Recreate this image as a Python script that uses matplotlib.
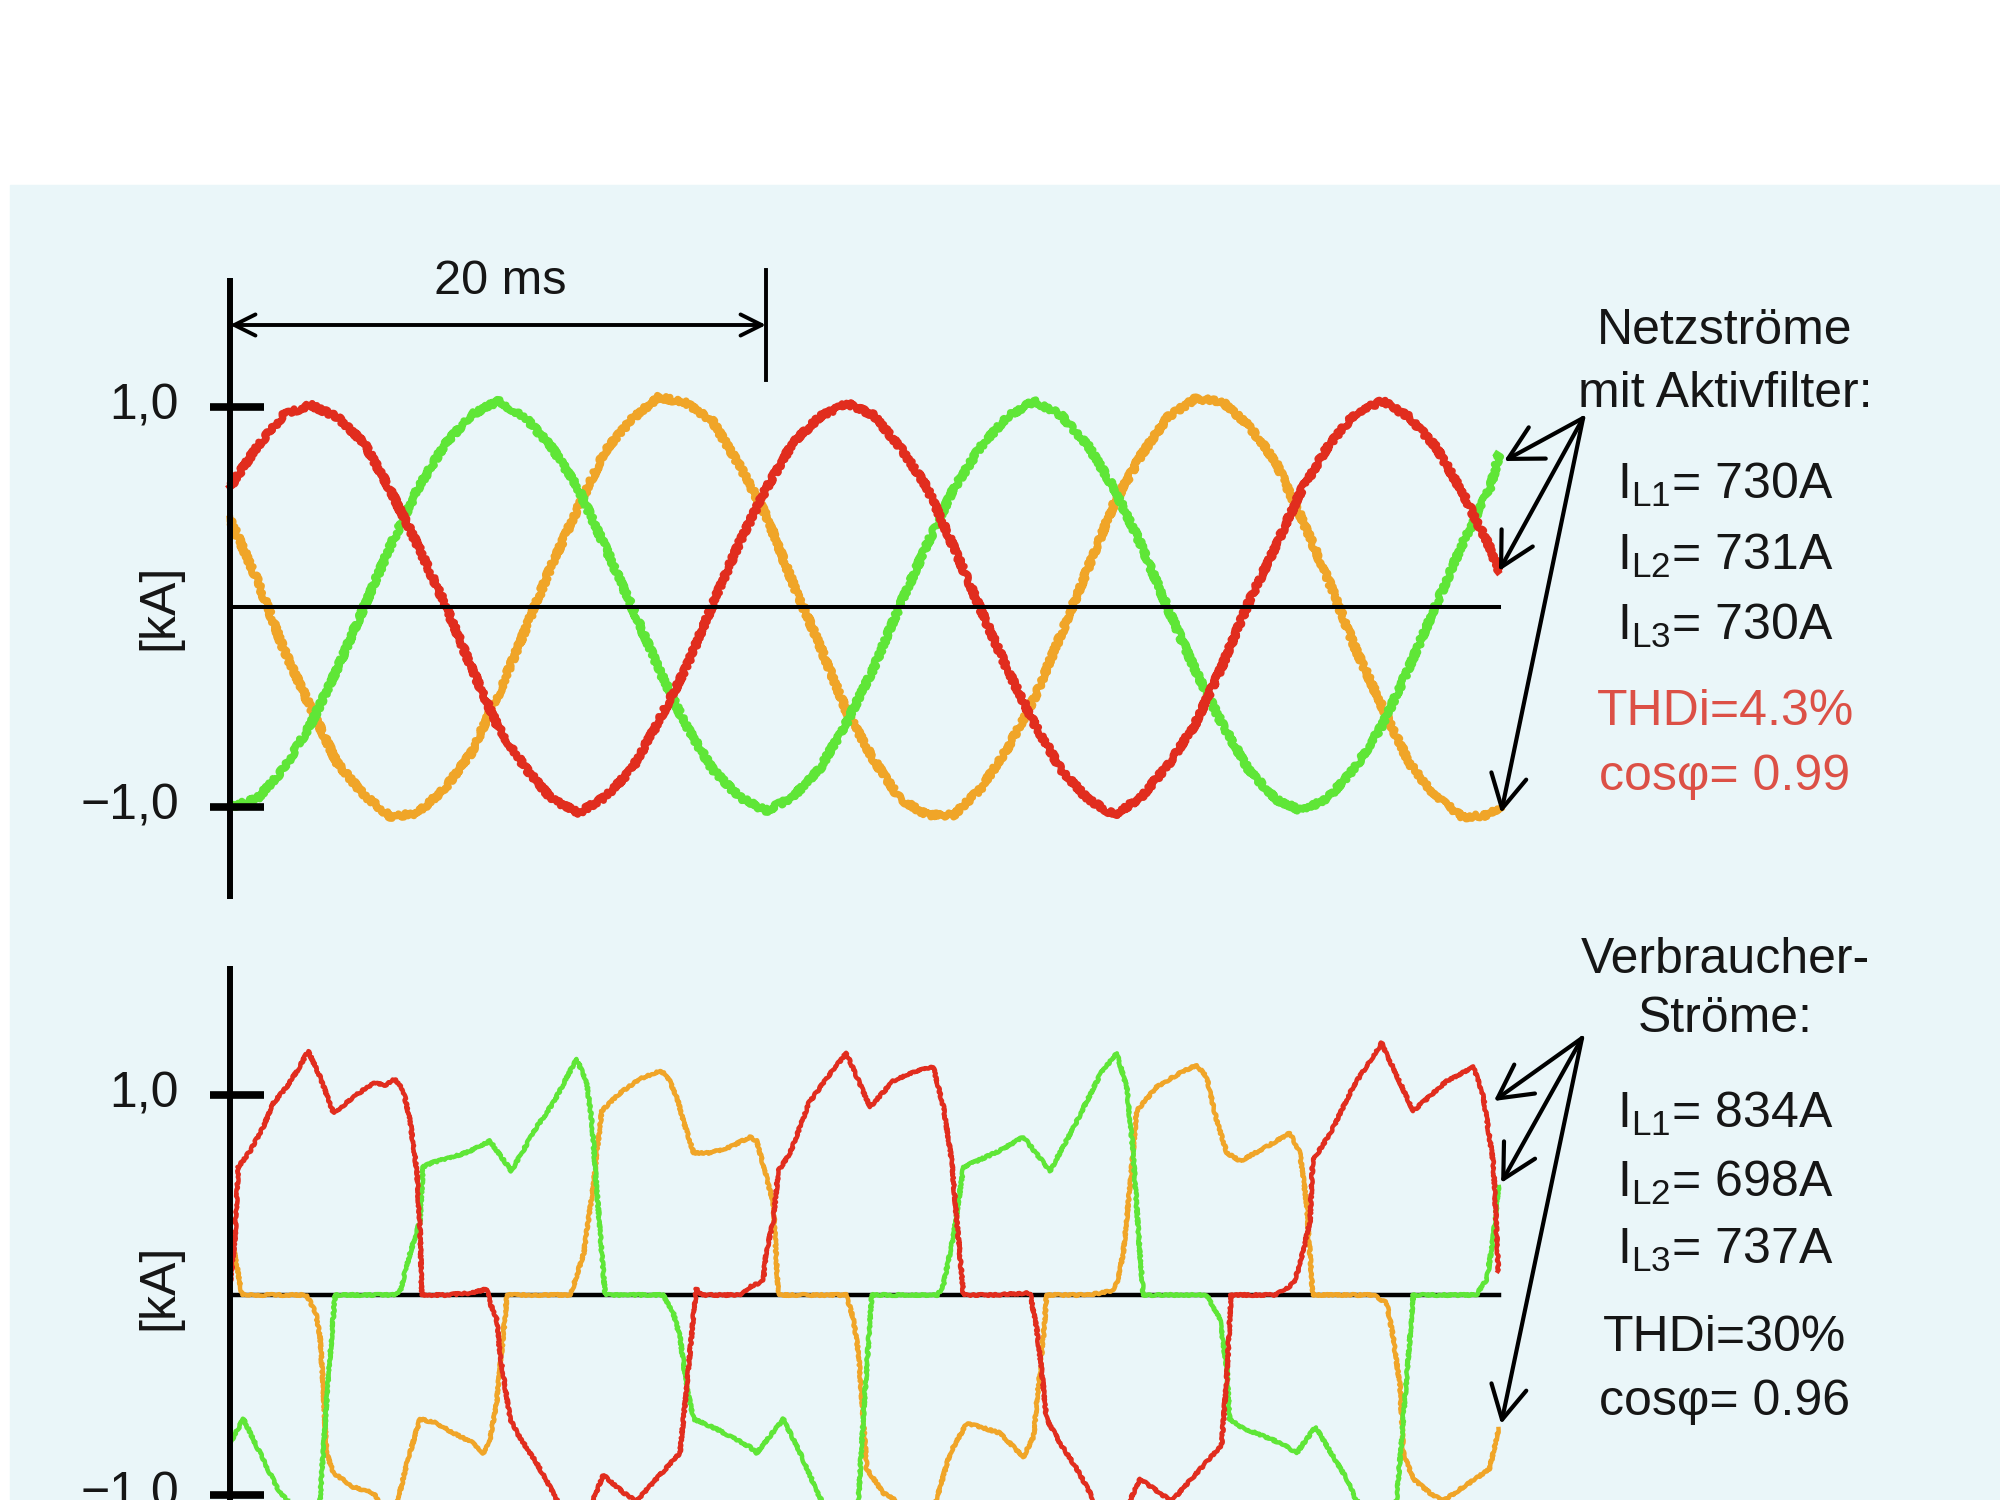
import numpy as np
import matplotlib.pyplot as plt
from matplotlib.patches import Rectangle

plt.rcParams['font.family'] = ['Liberation Sans', 'DejaVu Sans']
plt.rcParams['mathtext.fontset'] = 'custom'
plt.rcParams['mathtext.rm'] = 'Liberation Sans'
plt.rcParams['mathtext.it'] = 'Liberation Sans:italic'
plt.rcParams['mathtext.default'] = 'regular'

RED = '#e12d1e'
GREEN = '#5fe637'
ORANGE = '#f0a528'
TXT = '#161616'
TXT_RED = '#dc5046'
BG = '#eaf6f9'

# --- top panel: mains currents with active filter, sampled every 1 ms [kA]
t_top = list(range(48)) + [47.35]
top_l1 = [0.60, 0.80, 0.96, 1.01, 0.95, 0.82, 0.58, 0.31, 0.02, -0.30,
          -0.60, -0.80, -0.96, -1.03, -0.95, -0.81, -0.57, -0.31, 0.01, 0.32,
          0.59, 0.82, 0.95, 1.02, 0.96, 0.80, 0.60, 0.30, -0.01, -0.31,
          -0.58, -0.81, -0.96, -1.04, -0.95, -0.79, -0.59, -0.30, 0.02, 0.30,
          0.59, 0.81, 0.97, 1.03, 0.95, 0.80, 0.57, 0.30, 0.18]
top_l2 = [-1.00, -0.96, -0.81, -0.59, -0.31, 0.00, 0.31, 0.59, 0.81, 0.96,
          1.03, 0.95, 0.80, 0.59, 0.30, 0.00, -0.31, -0.59, -0.81, -0.95,
          -1.02, -0.95, -0.81, -0.58, -0.31, 0.01, 0.31, 0.59, 0.80, 0.95,
          1.03, 0.96, 0.81, 0.59, 0.31, -0.01, -0.31, -0.58, -0.81, -0.96,
          -1.02, -0.95, -0.80, -0.59, -0.30, 0.01, 0.32, 0.59, 0.76]
top_l3 = [0.44, 0.14, -0.21, -0.50, -0.78, -0.94, -1.05, -1.03, -0.91, -0.73,
          -0.44, -0.12, 0.21, 0.50, 0.78, 0.94, 1.05, 1.02, 0.93, 0.71,
          0.46, 0.12, -0.19, -0.52, -0.76, -0.96, -1.04, -1.04, -0.91, -0.71,
          -0.46, -0.14, 0.19, 0.52, 0.76, 0.95, 1.04, 1.03, 0.91, 0.73,
          0.44, 0.13, -0.21, -0.50, -0.78, -0.95, -1.05, -1.04, -1.00]

# --- bottom panel: load currents [ms], [kA]
bot_l1_t = [0.0, 0.12, 0.19, 0.31, 0.75, 1.24, 1.62, 2.11, 2.5, 2.92, 3.36, 3.86, 4.25, 4.6,
            5.35, 5.8, 6.16, 6.47, 6.72, 6.97, 7.1, 7.15, 8.0, 9.0, 9.58, 9.7, 9.95, 10.07,
            10.3, 10.45, 10.8, 11.44, 12.06, 12.95, 13.93, 14.7, 15.5, 16.2, 16.45, 16.79,
            17.04, 17.28, 17.4, 17.6, 19.0, 19.4, 19.9, 20.0, 20.27, 20.46, 20.9, 21.6, 22.3,
            23.0, 23.88, 24.75, 25.62, 26.24, 26.62, 26.93, 27.12, 27.37, 28.5, 29.85, 30.1,
            30.28, 30.47, 30.97, 31.6, 32.09, 32.9, 33.96, 34.8, 35.6, 36.3, 36.7, 37.0, 37.2,
            37.35, 39.0, 39.4, 39.68, 39.9, 40.3, 40.4, 41.1, 41.9, 42.97, 44.15, 45.4, 46.4,
            46.77, 47.14, 47.33]
bot_l1_v = [0.05, 0.2, 0.29, 0.64, 0.72, 0.84, 0.96, 1.04, 1.12, 1.22, 1.09, 0.91, 0.95, 0.99,
            1.06, 1.05, 1.08, 1.02, 0.87, 0.62, 0.3, 0.0, 0.0, 0.01, 0.03, -0.04, -0.12, -0.29,
            -0.49, -0.62, -0.71, -0.84, -0.99, -1.22, -0.9, -0.99, -1.06, -1.09, -1.03, -0.79,
            -0.46, -0.12, 0.03, 0.0, 0.0, 0.04, 0.07, 0.21, 0.37, 0.62, 0.71, 0.96, 1.09,
            1.21, 0.94, 1.07, 1.12, 1.14, 0.94, 0.67, 0.37, 0.0, 0.0, 0.01, -0.17,
            -0.37, -0.62, -0.74, -0.87, -0.99, -1.22, -0.92, -1.0, -1.07, -1.1, -1.03, -0.75, -0.4,
            0.0, 0.0, 0.03, 0.06, 0.14, 0.37, 0.67, 0.82, 1.04, 1.26, 0.92, 1.07, 1.14,
            0.99, 0.66, 0.12]

bot_l2_t = [0.0, 0.5, 1.12, 1.74, 2.3, 2.83, 3.2, 3.36, 3.6, 3.79, 3.92, 5.0, 6.2, 6.35, 6.7,
            7.09, 7.2, 7.5, 8.33, 8.96, 9.7, 10.5, 11.44, 12.06, 12.93, 13.3, 13.5, 13.68,
            13.87, 14.0, 15.0, 16.17, 16.54, 16.79, 17.04, 17.3, 18.16, 19.4, 19.65, 20.65,
            21.27, 22.0, 22.9, 23.25, 23.45, 23.63, 23.88, 23.95, 25.0, 26.4, 26.62, 27.0,
            27.37, 28.7, 29.6, 30.6, 31.6, 32.5, 33.08, 33.46, 33.7, 33.95, 34.08, 35.0, 36.45,
            36.93, 37.2, 37.3, 37.7, 39.2, 39.8, 40.5, 41.67, 42.0, 43.0, 43.3, 43.53, 43.78,
            44.03, 44.15, 45.5, 46.5, 46.9, 47.14, 47.33]
bot_l2_v = [-0.74, -0.62, -0.79, -0.96, -1.06, -1.18, -1.07, -1.02, -0.54, -0.21, 0.0, 0.0, 0.0,
            0.02, 0.2, 0.37, 0.64, 0.66, 0.69, 0.72, 0.77, 0.62, 0.84, 0.96, 1.18, 1.07, 0.87,
            0.54, 0.21, 0.0, 0.0, 0.0, -0.09, -0.21, -0.46, -0.62, -0.67, -0.76, -0.79, -0.62,
            -0.79, -1.01, -1.2, -1.08, -1.02, -0.62, -0.12, 0.0, 0.0, 0.0, 0.05, 0.3,
            0.64, 0.72, 0.79, 0.62, 0.87, 1.11, 1.21, 1.04, 0.71, 0.21, 0.0, 0.0, 0.0,
            -0.12, -0.37, -0.62, -0.66, -0.74, -0.79, -0.66, -0.92, -1.02, -1.2, -1.08, -1.02,
            -0.62, -0.21, 0.0, 0.0, 0.0, 0.08, 0.29, 0.54]

bot_l3_t = [0.0, 0.25, 0.45, 1.5, 2.8, 2.9, 3.2, 3.36, 3.48, 3.6, 3.86, 4.6, 5.35, 6.0, 6.35,
            6.6, 7.09, 7.7, 8.33, 9.08, 9.45, 9.7, 9.95, 10.07, 10.26, 10.33, 11.5, 12.7, 12.8,
            13.2, 13.55, 13.87, 14.55, 15.3, 16.05, 16.3, 16.67, 16.92, 17.3, 17.9, 18.66,
            19.4, 19.65, 19.96, 20.27, 20.46, 22.0, 23.0, 23.26, 23.45, 23.63, 23.76, 24.38,
            25.0, 26.0, 26.37, 26.87, 27.5, 28.73, 29.6, 29.98, 30.16, 30.35, 30.47, 32.0,
            32.9, 33.1, 33.33, 33.58, 33.83, 34.57, 35.45, 36.07, 36.44, 36.82, 37.2, 37.7,
            38.66, 39.55, 39.92, 40.17, 40.4, 41.5, 42.66, 43.16, 43.4, 43.66, 43.78, 44.15,
            44.77, 45.5, 46.2, 46.64, 47.0, 47.33]
bot_l3_v = [0.32, 0.15, 0.0, 0.0, 0.0, -0.01, -0.09, -0.21, -0.46, -0.79, -0.89, -0.96, -0.99,
            -1.12, -0.98, -0.84, -0.62, -0.64, -0.69, -0.74, -0.79, -0.72, -0.54, -0.37, -0.12,
            0.0, 0.0, 0.0, 0.04, 0.21, 0.54, 0.92, 1.01, 1.08, 1.12, 1.1, 0.99, 0.87, 0.71,
            0.71, 0.74, 0.79, 0.77, 0.62, 0.46, 0.0, 0.0, 0.0, -0.12, -0.29, -0.62, -0.87,
            -0.99, -1.04, -1.1, -1.02, -0.79, -0.64, -0.69, -0.81, -0.71, -0.46, -0.21, 0.0,
            0.0, 0.02, 0.06, 0.21, 0.54, 0.92, 1.04, 1.11, 1.15, 1.09, 0.87, 0.71, 0.67,
            0.74, 0.81, 0.71, 0.46, 0.0, 0.0, 0.0, -0.04, -0.21, -0.46, -0.79, -0.92,
            -0.99, -1.05, -1.12, -1.03, -0.87, -0.67]

top_text = ['Netzströme', 'mit Aktivfilter:', r'I$_{L1}$= 730A', r'I$_{L2}$= 731A',
            r'I$_{L3}$= 730A', 'THDi=4.3%', 'cosφ= 0.99']
top_text_y = [331, 394, 485, 556, 626, 712, 777]
bot_text = ['Verbraucher-', 'Ströme:', r'I$_{L1}$= 834A', r'I$_{L2}$= 698A',
            r'I$_{L3}$= 737A', 'THDi=30%', 'cosφ= 0.96']
bot_text_y = [960, 1019, 1114, 1183, 1250, 1338, 1402]

T_END = 47.35
XLIM = (-230 / 26.8, 1770 / 26.8)

fig = plt.figure(figsize=(20, 15), dpi=100)
fig.patches.append(Rectangle((10 / 2000, 0), 1, 1 - 185 / 1500, transform=fig.transFigure,
                             color=BG, zorder=-10))

ax1 = fig.add_axes([0, 0.38, 1, 745 / 1500])
ax2 = fig.add_axes([0, 0, 1, 0.38])
ax1.set_ylim(-1.615, 2.11)
ax2.set_ylim(-1.025, 1.825)

for ax, ky in ((ax1, 0.0), (ax2, 0.04)):
    ax.set_xlim(*XLIM)
    ax.axis('off')
    ax.patch.set_alpha(0)
    for yv, lab in ((1, '1,0'), (-1, '\u22121,0')):
        ax.plot([-0.75, 1.25], [yv, yv], color='k', lw=5.5, solid_capstyle='butt', zorder=5)
        ax.text(-1.9, yv, lab, ha='right', va='center', fontsize=36, color=TXT)
    ax.text(-2.65, ky, '[kA]', rotation=90, ha='center', va='center', fontsize=36, color=TXT)

# axis lines
ax1.plot([0, 0], [1.645, -1.46], color='k', lw=4.3, solid_capstyle='butt', zorder=6)
ax2.plot([0, 0], [1.645, -1.2], color='k', lw=4.3, solid_capstyle='butt', zorder=6)

# top traces
for vals, col in ((top_l3, ORANGE), (top_l2, GREEN), (top_l1, RED)):
    ln, = ax1.plot(t_top, vals, color=col, lw=5.0, zorder=3)
    ln.set_sketch_params(scale=2.2, length=5, randomness=8)
ax1.plot([0, T_END], [0, 0], color='k', lw=2.9, zorder=4)

# bottom traces
ax2.plot([0, T_END], [0, 0], color='k', lw=3.2, zorder=2)
for tt, vv, col in ((bot_l3_t, bot_l3_v, ORANGE), (bot_l2_t, bot_l2_v, GREEN),
                    (bot_l1_t, bot_l1_v, RED)):
    ln, = ax2.plot(tt, vv, color=col, lw=3.2, zorder=3)
    ln.set_sketch_params(scale=0.9, length=5, randomness=8)

# 20 ms marker
ax1.annotate('', xy=(0, 1.41), xytext=(20, 1.41),
             arrowprops=dict(arrowstyle='<->', lw=2.8, color='k', mutation_scale=38,
                             shrinkA=0, shrinkB=0))
ax1.plot([20, 20], [1.685, 1.135], color='k', lw=2.8)
ax1.text(10.07, 1.63, '20 ms', ha='center', va='center', fontsize=35, color=TXT)

# pointer arrows
arrow_kw = dict(arrowstyle='->, head_length=0.6, head_width=0.32', lw=3.0, color='k',
                mutation_scale=40, shrinkA=0, shrinkB=0)
for tip in ((47.54, 0.73), (47.35, 0.18), (47.43, -1.03)):
    ax1.annotate('', xy=tip, xytext=(50.49, 0.945), arrowprops=arrow_kw)
for tip in ((47.16, 0.97), (47.43, 0.56), (47.43, -0.645)):
    ax2.annotate('', xy=tip, xytext=(50.45, 1.285), arrowprops=arrow_kw)

# right-hand labels
for i, (s, yp) in enumerate(zip(top_text, top_text_y)):
    col = TXT_RED if i >= 5 else TXT
    fig.text(0.8625, 1 - yp / 1500, s, ha='center', va='center', fontsize=36, color=col)
for s, yp in zip(bot_text, bot_text_y):
    fig.text(0.8625, 1 - yp / 1500, s, ha='center', va='center', fontsize=36, color=TXT)

fig.savefig('out.png', dpi=100, facecolor='white')
